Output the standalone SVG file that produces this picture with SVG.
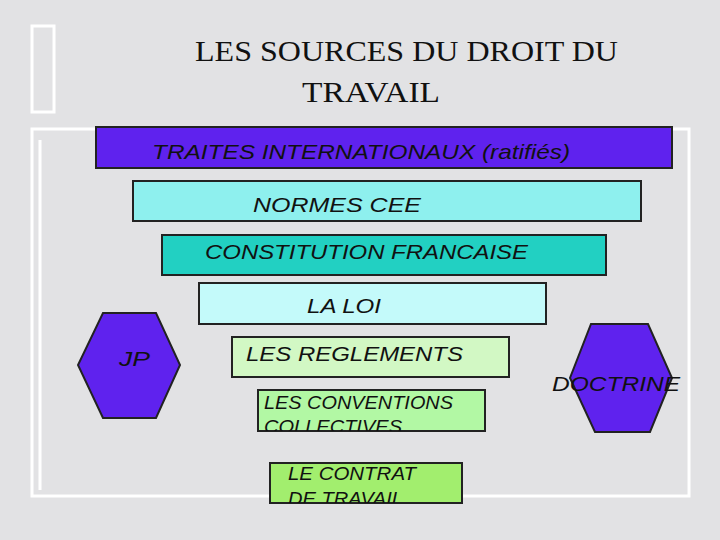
<svg xmlns="http://www.w3.org/2000/svg" width="720" height="540" viewBox="0 0 720 540">
<defs>
<style>
.b{stroke:#222;stroke-width:2}
.t{font-family:"Liberation Sans",Arial,sans-serif;font-style:italic;fill:#111}
.fr{fill:none;stroke:#fff;stroke-width:3}
</style>
<clipPath id="c1"><rect x="258" y="390" width="227" height="41"/></clipPath>
<clipPath id="c2"><rect x="270" y="463" width="192" height="40"/></clipPath>
</defs>
<rect width="720" height="540" fill="#e2e2e4"/>
<g id="frame">
<rect class="fr" x="32" y="26" width="22" height="86"/>
<rect class="fr" x="32" y="129" width="657" height="367"/>
<line x1="40" y1="140" x2="40" y2="490" stroke="#fff" stroke-width="3"/>
</g>
<text x="195" y="61" font-family="Liberation Serif,serif" font-size="29" fill="#111" textLength="423" lengthAdjust="spacingAndGlyphs">LES SOURCES DU DROIT DU</text>
<text x="302" y="102" font-family="Liberation Serif,serif" font-size="29" fill="#111" textLength="138" lengthAdjust="spacingAndGlyphs">TRAVAIL</text>
<g id="traites"><rect class="b" x="96" y="127" width="576" height="41" fill="#5f22ee"/><text class="t" x="152" y="159" font-size="21" textLength="418" lengthAdjust="spacingAndGlyphs">TRAITES INTERNATIONAUX  (ratifiés)</text></g>
<g id="cee"><rect class="b" x="133" y="181" width="508" height="40" fill="#8ef0ee"/><text class="t" x="253" y="212" font-size="21" textLength="168" lengthAdjust="spacingAndGlyphs">NORMES  CEE</text></g>
<g id="constitution"><rect class="b" x="162" y="235" width="444" height="40" fill="#22d0c2"/><text class="t" x="205" y="259" font-size="21" textLength="323" lengthAdjust="spacingAndGlyphs">CONSTITUTION FRANCAISE</text></g>
<g id="loi"><rect class="b" x="199" y="283" width="347" height="41" fill="#c4fafa"/><text class="t" x="307" y="313" font-size="21" textLength="74" lengthAdjust="spacingAndGlyphs">LA LOI</text></g>
<g id="reglements"><rect class="b" x="232" y="337" width="277" height="40" fill="#d2f8c4"/><text class="t" x="246" y="361" font-size="21" textLength="217" lengthAdjust="spacingAndGlyphs">LES REGLEMENTS</text></g>
<g id="conventions"><rect class="b" x="258" y="390" width="227" height="41" fill="#b2f8a4"/><g clip-path="url(#c1)"><text class="t" x="264" y="409" font-size="18" textLength="189" lengthAdjust="spacingAndGlyphs">LES CONVENTIONS</text><text class="t" x="264" y="433" font-size="18" textLength="138" lengthAdjust="spacingAndGlyphs">COLLECTIVES</text></g></g>
<g id="contrat"><rect class="b" x="270" y="463" width="192" height="40" fill="#a2ee6e"/><g clip-path="url(#c2)"><text class="t" x="288" y="480" font-size="18" textLength="128" lengthAdjust="spacingAndGlyphs">LE CONTRAT</text><text class="t" x="288" y="505" font-size="18" textLength="115" lengthAdjust="spacingAndGlyphs">DE TRAVAIL</text></g></g>
<g id="jp"><polygon class="b" points="103,313 156,313 180,365 156,418 103,418 78,365" fill="#5f22ee"/><text class="t" x="119" y="366" font-size="21" textLength="31" lengthAdjust="spacingAndGlyphs">JP</text></g>
<g id="doctrine"><polygon class="b" points="591,324 648,324 672,378 650,432 595,432 570,378" fill="#5f22ee"/><text class="t" x="552" y="391" font-size="21" textLength="128" lengthAdjust="spacingAndGlyphs">DOCTRINE</text></g>
<g id="connectors"/>
</svg>
